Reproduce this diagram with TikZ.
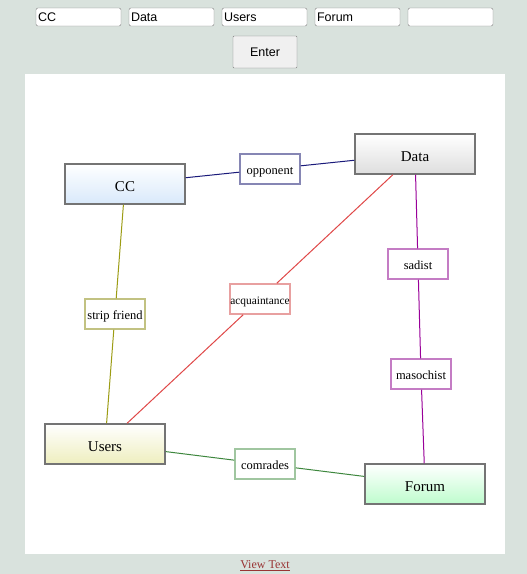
\documentclass[tikz,border=0pt]{standalone}
\usepackage{fontspec}
\setmainfont{Liberation Serif}
\setsansfont{Liberation Sans}

\definecolor{pagebg}{HTML}{D9E2DD}
\definecolor{boxline}{HTML}{747474}
\definecolor{ccblue}{HTML}{D8E9FB}
\definecolor{datagray}{HTML}{DEDEDE}
\definecolor{usersyellow}{HTML}{EEEEBE}
\definecolor{forumgreen}{HTML}{BEFCCD}
\definecolor{navyedge}{HTML}{1A1A7A}
\definecolor{navylabel}{HTML}{8686B4}
\definecolor{oliveedge}{HTML}{9C9C14}
\definecolor{olivelabel}{HTML}{C2C282}
\definecolor{rededge}{HTML}{E04848}
\definecolor{redlabel}{HTML}{E8A0A0}
\definecolor{purpleedge}{HTML}{990099}
\definecolor{purplelabel}{HTML}{C47CC4}
\definecolor{greenedge}{HTML}{3E873E}
\definecolor{greenlabel}{HTML}{A0C6A0}
\definecolor{linkred}{HTML}{993333}

\tikzset{
  entity/.style={draw=boxline, line width=1.5pt, minimum width=120pt, minimum height=40pt,
    inner sep=0pt, text height=14pt, text depth=0pt, top color=white, font=\fontsize{15}{18}\selectfont},
  relation/.style={draw, fill=white, line width=1.5pt, minimum width=60pt, minimum height=30pt,
    inner sep=0pt, text height=10pt, text depth=0pt, font=\fontsize{12.5}{14}\selectfont},
  inputbox/.style={draw=gray, fill=white, rounded corners=2pt, minimum width=85pt, minimum height=18pt,
    text width=81pt, align=left, inner xsep=2pt, inner ysep=0pt, text height=9pt, text depth=0pt,
    font=\sffamily\fontsize{12.5}{14}\selectfont},
  link/.style={line width=1pt}
}

\begin{document}
\begin{tikzpicture}[x=1pt,y=-1pt]
        % Hintergrund und Zeichenfläche
        \fill[pagebg] (0,0) rectangle (527,574);
        \useasboundingbox (0,0) rectangle (527,574);
        \fill[white] (25,74) rectangle (505,554);

        % Eingabefelder
        \foreach \name [count=\i] in {CC,Data,Users,Forum,{}}
          \node[inputbox] (in\i) at (78.5+93*\i-93,17) {\name};

        % Knopf
        \node[draw=gray, fill=black!6, rounded corners=1pt, minimum width=64pt, minimum height=32pt,
          text height=9pt, text depth=0pt, font=\sffamily\fontsize{12.5}{14}\selectfont] (enter) at (265,52) {Enter};

        % Entitaeten
        \node[entity, bottom color=ccblue] (cc) at (125,184) {CC};
        \node[entity, bottom color=datagray] (data) at (415,154) {Data};
        \node[entity, bottom color=usersyellow] (users) at (105,444) {Users};
        \node[entity, bottom color=forumgreen] (forum) at (425,484) {Forum};

        % Beziehungen
        \node[relation, draw=navylabel] (opponent) at (270,169) {opponent};
        \node[relation, draw=olivelabel] (strip) at (115,314) {strip friend};
        \node[relation, draw=redlabel, font=\fontsize{11.4}{14}\selectfont] (acq) at (260,299) {acquaintance};
        \node[relation, draw=purplelabel] (sadist) at (418,264) {sadist};
        \node[relation, draw=purplelabel] (maso) at (421,374) {masochist};
        \node[relation, draw=greenlabel] (comrades) at (265,464) {comrades};

        % Verbindungen
        \draw[link, navyedge] (cc) -- (opponent);
        \draw[link, navyedge] (opponent) -- (data);
        \draw[link, oliveedge] (cc) -- (strip);
        \draw[link, oliveedge] (strip) -- (users);
        \draw[link, rededge] (data) -- (acq);
        \draw[link, rededge] (acq) -- (users);
        \draw[link, purpleedge] (data) -- (sadist);
        \draw[link, purpleedge] (sadist) -- (maso);
        \draw[link, purpleedge] (maso) -- (forum);
        \draw[link, greenedge] (users) -- (comrades);
        \draw[link, greenedge] (comrades) -- (forum);

        % Verweis
        \node[text=linkred, font=\fontsize{12}{14}\selectfont, inner sep=1pt] (view) at (265,566)
          {\underline{View Text}};
\end{tikzpicture}
\end{document}
